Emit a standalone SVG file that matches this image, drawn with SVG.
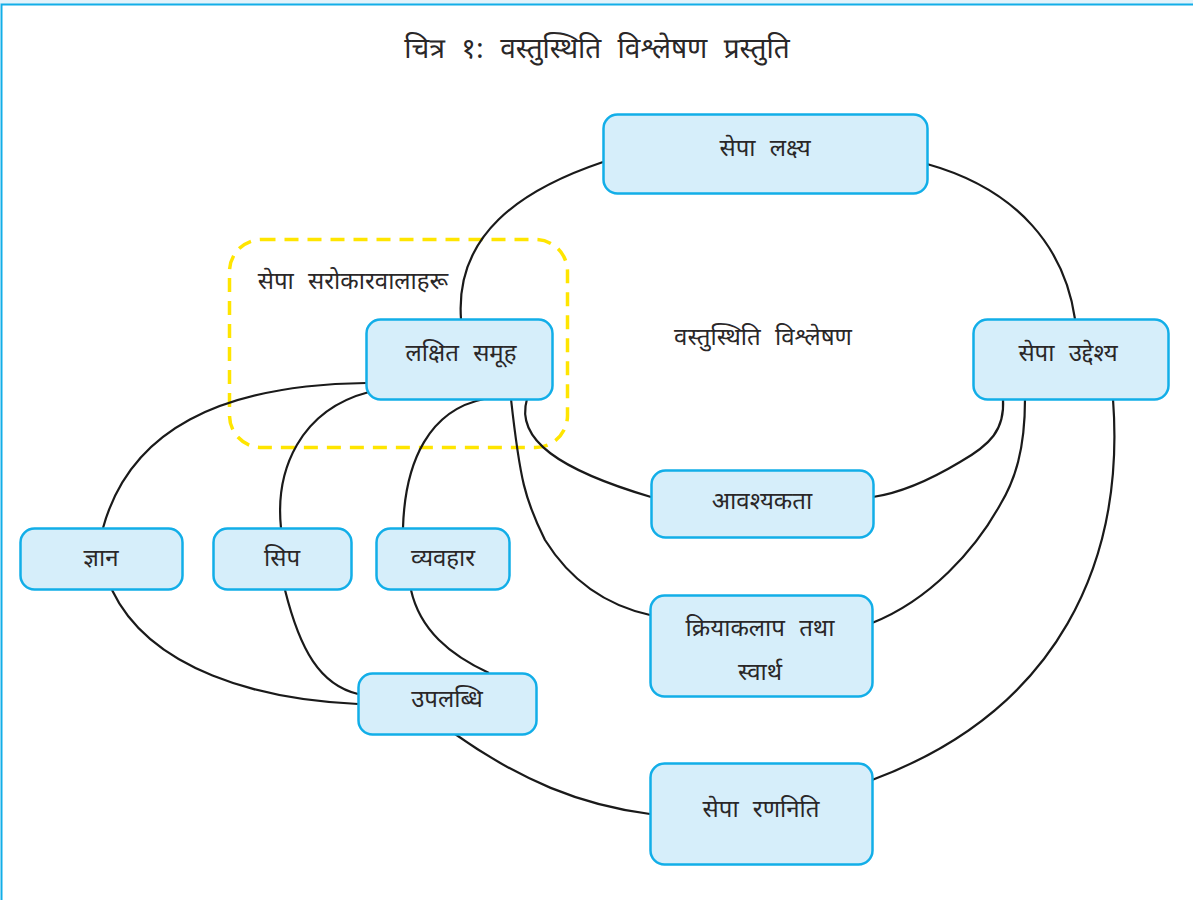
<svg xmlns="http://www.w3.org/2000/svg" width="1193" height="900" viewBox="0 0 1193 900">
<style>
.n rect{fill:#d6eefa;stroke:#12aee8;stroke-width:2.5}
text{font-family:"Noto Sans Devanagari","Noto Sans","Lohit Devanagari","FreeSans","DejaVu Sans",sans-serif;fill:#2a2728;text-anchor:middle;word-spacing:8px}
.t{font-size:24px}
.c path{fill:none;stroke:#1a1a1a;stroke-width:2.2}
</style>
<rect x="0" y="0" width="1193" height="900" fill="#fff"/>
<rect x="0" y="0" width="1193" height="4" fill="#e3f3fb"/>
<path d="M1.5,900 V4.5 H1193" fill="none" stroke="#12aee8" stroke-width="2"/>
<text x="597" y="58" style="font-size:28px;word-spacing:9px">चित्र १: वस्तुस्थिति विश्लेषण प्रस्तुति</text>
<g id="stakeholders">
<rect x="229.5" y="239.5" width="338" height="208" rx="32" fill="none" stroke="#ffe500" stroke-width="3.5" stroke-dasharray="14,9"/>
<text class="t" x="353" y="289">सेपा सरोकारवालाहरू</text>
</g>
<text id="center-label" class="t" x="763" y="345">वस्तुस्थिति विश्लेषण</text>
<g class="c" id="connectors">
<path d="M603,162 C520,190 455,235 461,319"/>
<path d="M927,164 C1020,190 1065,250 1075,319"/>
<path d="M366,383 C220,385 130,430 103,528"/>
<path d="M369,392 C300,410 275,470 281,528"/>
<path d="M484,399 C430,410 405,460 403,528"/>
<path d="M511,399 C520,480 525,500 545,540 C570,580 605,605 650,615"/>
<path d="M527,399 C515,440 560,470 651,497"/>
<path d="M1003,399 C1005,430 990,445 960,462 C930,480 900,493 873,497"/>
<path d="M1025,399 C1025,450 1015,480 1000,505 C975,550 930,600 872,623"/>
<path d="M1113,399 C1125,560 1060,710 872,780"/>
<path d="M112,590 C150,670 260,700 358,704"/>
<path d="M285,590 C300,650 320,685 358,694"/>
<path d="M411,590 C420,630 450,655 489,673"/>
<path d="M455,734 C520,780 580,805 650,814"/>
</g>
<g class="n" id="sepa-lakshya"><rect x="603.5" y="114.5" width="324" height="79" rx="14"/><text class="t" x="765" y="156">सेपा लक्ष्य</text></g>
<g class="n" id="lakshit-samuh"><rect x="366.5" y="319.5" width="186" height="80" rx="14"/><text class="t" x="461" y="361">लक्षित समूह</text></g>
<g class="n" id="sepa-uddeshya"><rect x="973.5" y="319.5" width="195" height="80" rx="14"/><text class="t" x="1068" y="361">सेपा उद्देश्य</text></g>
<g class="n" id="aawashyakta"><rect x="651.5" y="470.5" width="222" height="67" rx="14"/><text class="t" x="762" y="509">आवश्यकता</text></g>
<g class="n" id="kriyakalap"><rect x="650.5" y="595.5" width="222" height="101" rx="14"/><text class="t" x="760" y="636">क्रियाकलाप तथा</text><text class="t" x="760" y="680">स्वार्थ</text></g>
<g class="n" id="sepa-rananiti"><rect x="650.5" y="763.5" width="222" height="101" rx="14"/><text class="t" x="761" y="817">सेपा रणनिति</text></g>
<g class="n" id="gyan"><rect x="20.5" y="528.5" width="162" height="61" rx="14"/><text class="t" x="101" y="566">ज्ञान</text></g>
<g class="n" id="sip"><rect x="213.5" y="528.5" width="138" height="61" rx="14"/><text class="t" x="282" y="566">सिप</text></g>
<g class="n" id="vyavahar"><rect x="376.5" y="528.5" width="133" height="61" rx="14"/><text class="t" x="443" y="566">व्यवहार</text></g>
<g class="n" id="upalabdhi"><rect x="358.5" y="673.5" width="178" height="61" rx="14"/><text class="t" x="447" y="707">उपलब्धि</text></g>
</svg>
